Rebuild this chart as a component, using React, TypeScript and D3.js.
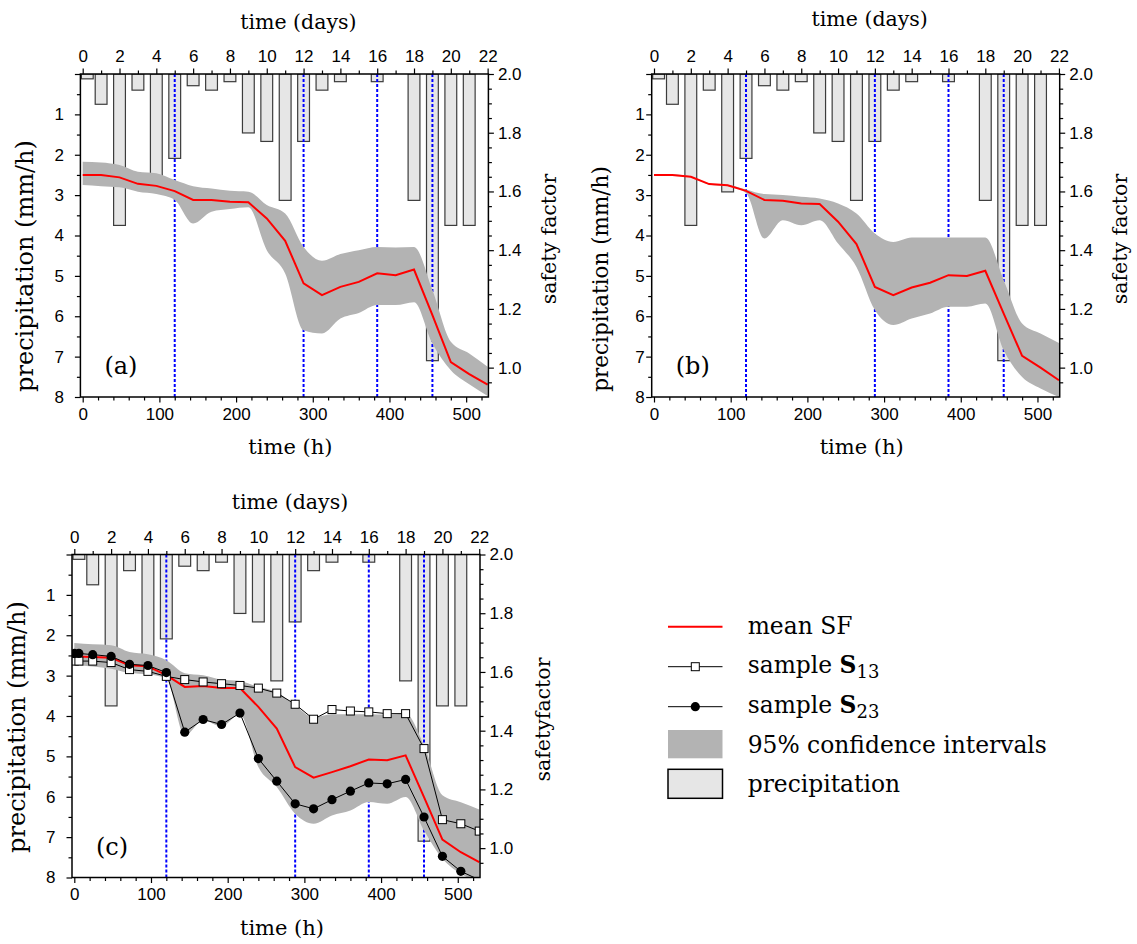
import React, { useEffect, useRef } from 'react';
import * as d3 from 'd3';

// daily precipitation (mm/h), bars placed at day index
const rainDays = [0.25, 1, 2, 3, 4, 5, 6, 7, 8, 9, 10, 11, 12, 13, 14, 16, 18, 19, 20, 21];
const rainValues = [0.12, 0.75, 3.75, 0.4, 2.92, 2.09, 0.29, 0.4, 0.19, 1.46, 1.67, 3.13, 1.67, 0.4, 0.19, 0.19, 3.13, 7.1, 3.75, 3.75];

// vertical dotted markers (h)
const eventHours = [120, 288, 384, 456];

// safety factor time grid (h)
const hours = [0, 24, 48, 72, 96, 120, 144, 168, 192, 216, 240, 264, 288, 312, 336, 360, 384, 408, 432, 456, 480, 504, 528];

// panel (a)
const meanA = [1.656, 1.656, 1.648, 1.626, 1.619, 1.601, 1.571, 1.571, 1.565, 1.563, 1.508, 1.432, 1.287, 1.247, 1.275, 1.292, 1.321, 1.315, 1.334, 1.179, 1.019, 0.978, 0.942];
const upperA = [1.701, 1.699, 1.69, 1.667, 1.662, 1.639, 1.618, 1.61, 1.602, 1.599, 1.554, 1.525, 1.411, 1.364, 1.387, 1.4, 1.411, 1.409, 1.411, 1.264, 1.088, 1.048, 1.003];
const lowerA = [1.622, 1.618, 1.614, 1.599, 1.591, 1.571, 1.491, 1.531, 1.54, 1.546, 1.4, 1.321, 1.127, 1.116, 1.167, 1.186, 1.213, 1.213, 1.223, 1.082, 0.991, 0.943, 0.903];

// panel (b)
const meanB = [1.656, 1.656, 1.65, 1.625, 1.621, 1.602, 1.571, 1.568, 1.559, 1.557, 1.497, 1.421, 1.275, 1.247, 1.273, 1.289, 1.315, 1.312, 1.33, 1.184, 1.04, 1.0, 0.957];
const upperB = [1.658, 1.658, 1.652, 1.627, 1.623, 1.607, 1.591, 1.588, 1.582, 1.576, 1.559, 1.525, 1.457, 1.428, 1.443, 1.443, 1.443, 1.443, 1.443, 1.298, 1.15, 1.116, 1.084];
const lowerB = [1.653, 1.653, 1.648, 1.623, 1.618, 1.595, 1.44, 1.502, 1.485, 1.502, 1.423, 1.343, 1.196, 1.145, 1.167, 1.184, 1.207, 1.207, 1.218, 1.059, 0.968, 0.929, 0.9];

// panel (c)
const meanC = [1.653, 1.651, 1.648, 1.623, 1.619, 1.589, 1.549, 1.552, 1.545, 1.545, 1.481, 1.407, 1.276, 1.24, 1.259, 1.279, 1.302, 1.299, 1.316, 1.174, 1.029, 0.986, 0.952];
const upperC = [1.699, 1.694, 1.691, 1.668, 1.66, 1.64, 1.596, 1.589, 1.574, 1.569, 1.549, 1.532, 1.486, 1.446, 1.456, 1.456, 1.456, 1.455, 1.458, 1.35, 1.18, 1.156, 1.132];
const lowerC = [1.623, 1.619, 1.611, 1.596, 1.592, 1.577, 1.384, 1.435, 1.415, 1.456, 1.276, 1.208, 1.117, 1.083, 1.111, 1.128, 1.157, 1.151, 1.174, 1.06, 0.964, 0.913, 0.884];

const sampleHours = [0, 6, 24, 48, 72, 96, 120, 144, 168, 192, 216, 240, 264, 288, 312, 336, 360, 384, 408, 432, 456, 480, 504, 528];
const s13 = [1.637, 1.637, 1.637, 1.632, 1.608, 1.602, 1.585, 1.574, 1.566, 1.56, 1.554, 1.545, 1.528, 1.49, 1.439, 1.472, 1.467, 1.464, 1.458, 1.458, 1.339, 1.097, 1.083, 1.058];
const s23 = [1.663, 1.663, 1.659, 1.653, 1.626, 1.622, 1.598, 1.395, 1.438, 1.421, 1.46, 1.305, 1.228, 1.151, 1.134, 1.165, 1.194, 1.222, 1.219, 1.234, 1.106, 0.972, 0.921, 0.892];

// ticks
const dayMajor = [0, 2, 4, 6, 8, 10, 12, 14, 16, 18, 20, 22];
const dayMinor = [1, 3, 5, 7, 9, 11, 13, 15, 17, 19, 21];
const hourMajor = [0, 100, 200, 300, 400, 500];
const rainMajor = [0, 1, 2, 3, 4, 5, 6, 7, 8];
const rainMinor = [0.5, 1.5, 2.5, 3.5, 4.5, 5.5, 6.5, 7.5];
const sfMajor = [1.0, 1.2, 1.4, 1.6, 1.8, 2.0];

const W = 408;
const H = 323;
const SERIF = '"DejaVu Serif", serif';
const SANS = '"Liberation Sans", Arial, sans-serif';

const panels = [
  { id: 'a', left: 80.4, top: 74, tag: '(a)', mean: meanA, upper: upperA, lower: lowerA, samples: false,
    rightTitle: 'safety factor', rightTitleX: 556, leftPad: 11, leftTitleX: 33, leftTitleY: 266, leftTitleSize: 24, topTitleY: 29 },
  { id: 'b', left: 651.7, top: 74, tag: '(b)', mean: meanB, upper: upperB, lower: lowerB, samples: false,
    rightTitle: 'safety factor', rightTitleX: 1127, leftPad: 1.5, leftTitleX: 608, leftTitleY: 279, leftTitleSize: 21.5, topTitleY: 26 },
  { id: 'c', left: 72, top: 554.5, tag: '(c)', mean: meanC, upper: upperC, lower: lowerC, samples: true,
    rightTitle: 'safetyfactor', rightTitleX: 550, leftPad: 11, leftTitleX: 25, leftTitleY: 727, leftTitleSize: 24, topTitleY: 509 },
];

function styleAxis(sel: any) {
  sel.select('.domain').remove();
  sel.selectAll('line').attr('stroke', '#000').attr('stroke-width', 1.2);
  sel.selectAll('text').attr('font-family', SANS).attr('font-size', 17).attr('fill', '#000');
}

function drawPanel(svg: any, p: any) {
  const x = d3.scaleLinear().domain([-3, 529]).range([p.left, p.left + W]);
  const yRain = d3.scaleLinear().domain([0, 8]).range([p.top, p.top + H]);
  const ySF = d3.scaleLinear().domain([0.9, 2.0]).range([p.top + H, p.top]);

  const g = svg.append('g');
  g.append('clipPath').attr('id', 'clip-' + p.id).append('rect')
    .attr('x', p.left).attr('y', p.top).attr('width', W).attr('height', H);
  const body = g.append('g').attr('clip-path', `url(#clip-${p.id})`);

  const barW = x(15.4) - x(0);
  body.selectAll('rect.rain').data(rainDays).join('rect')
    .attr('class', 'rain')
    .attr('x', (d: number) => x(d * 24) - barW / 2)
    .attr('y', yRain(0))
    .attr('width', barW)
    .attr('height', (d: number, i: number) => yRain(rainValues[i]) - yRain(0))
    .attr('fill', '#e6e6e6')
    .attr('stroke', '#3c3c3c')
    .attr('stroke-width', 1.2);

  body.selectAll('line.event').data(eventHours).join('line')
    .attr('class', 'event')
    .attr('x1', (d: number) => x(d)).attr('x2', (d: number) => x(d))
    .attr('y1', p.top).attr('y2', p.top + H)
    .attr('stroke', '#0000ff').attr('stroke-width', 2).attr('stroke-dasharray', '3,2');

  const band = d3.area<number>()
    .x((d) => x(d))
    .y0((d, i) => ySF(p.lower[i]))
    .y1((d, i) => ySF(p.upper[i]))
    .curve(d3.curveMonotoneX);
  body.append('path').attr('d', band(hours)).attr('fill', '#b3b3b3');

  const meanLine = d3.line<number>().x((d) => x(d)).y((d, i) => ySF(p.mean[i]));
  body.append('path').attr('d', meanLine(hours)).attr('fill', 'none')
    .attr('stroke', '#ff0000').attr('stroke-width', 2);

  if (p.samples) {
    const sLine = (vals: number[]) => d3.line<number>().x((d) => x(d)).y((d, i) => ySF(vals[i]))(sampleHours);
    body.append('path').attr('d', sLine(s13)).attr('fill', 'none').attr('stroke', '#000').attr('stroke-width', 1);
    body.append('path').attr('d', sLine(s23)).attr('fill', 'none').attr('stroke', '#000').attr('stroke-width', 1);
    const inRange = (i: number, vals: number[]) => vals[i] >= 0.9;
    body.selectAll('rect.s13').data(sampleHours.filter((d, i) => inRange(i, s13))).join('rect')
      .attr('class', 's13')
      .attr('x', (d: number) => x(d) - 4)
      .attr('y', (d: number) => ySF(s13[sampleHours.indexOf(d)]) - 4)
      .attr('width', 8).attr('height', 8)
      .attr('fill', '#fff').attr('stroke', '#000').attr('stroke-width', 1);
    body.selectAll('circle.s23').data(sampleHours.filter((d, i) => inRange(i, s23))).join('circle')
      .attr('class', 's23')
      .attr('cx', (d: number) => x(d))
      .attr('cy', (d: number) => ySF(s23[sampleHours.indexOf(d)]))
      .attr('r', 4.6)
      .attr('fill', '#000');
  }

  // axes
  const minorHours = d3.range(0, 529, 20).filter((h) => h % 100 !== 0);
  g.append('g').attr('transform', `translate(0,${p.top + H})`)
    .call(d3.axisBottom(x).tickValues(minorHours).tickSize(3.5).tickFormat(() => ''))
    .call(styleAxis);
  g.append('g').attr('transform', `translate(0,${p.top + H})`)
    .call(d3.axisBottom(x).tickValues(hourMajor).tickSize(5.5).tickPadding(5).tickFormat(d3.format('d')))
    .call(styleAxis);

  g.append('g').attr('transform', `translate(0,${p.top})`)
    .call(d3.axisTop(x).tickValues(dayMinor.map((d) => d * 24)).tickSize(3.5).tickFormat(() => ''))
    .call(styleAxis);
  g.append('g').attr('transform', `translate(0,${p.top})`)
    .call(d3.axisTop(x).tickValues(dayMajor.map((d) => d * 24)).tickSize(5.5).tickPadding(6.5)
      .tickFormat((d: any) => String(Math.round(d / 24))))
    .call(styleAxis);

  g.append('g').attr('transform', `translate(${p.left},0)`)
    .call(d3.axisLeft(yRain).tickValues(rainMinor).tickSize(3.5).tickFormat(() => ''))
    .call(styleAxis);
  g.append('g').attr('transform', `translate(${p.left},0)`)
    .call(d3.axisLeft(yRain).tickValues(rainMajor).tickSize(5.5).tickPadding(p.leftPad)
      .tickFormat((d: any) => (d === 0 ? '' : String(d))))
    .call(styleAxis);

  const sfMinor = d3.range(19, 40).map((k) => k * 0.05).filter((v) => Math.abs(v * 5 - Math.round(v * 5)) > 1e-6);
  g.append('g').attr('transform', `translate(${p.left + W},0)`)
    .call(d3.axisRight(ySF).tickValues(sfMinor).tickSize(3.5).tickFormat(() => ''))
    .call(styleAxis);
  g.append('g').attr('transform', `translate(${p.left + W},0)`)
    .call(d3.axisRight(ySF).tickValues(sfMajor).tickSize(5.5).tickPadding(4).tickFormat(d3.format('.1f')))
    .call(styleAxis);

  g.append('rect').attr('x', p.left).attr('y', p.top).attr('width', W).attr('height', H)
    .attr('fill', 'none').attr('stroke', '#000').attr('stroke-width', 1.5);

  // titles
  g.append('text').attr('x', p.left + 218).attr('y', p.topTitleY).attr('text-anchor', 'middle')
    .attr('font-family', SERIF).attr('font-size', 20.5).text('time (days)');
  g.append('text').attr('x', p.left + 210).attr('y', p.top + H + 57).attr('text-anchor', 'middle')
    .attr('font-family', SERIF).attr('font-size', 21).text('time (h)');
  g.append('text').attr('transform', `translate(${p.leftTitleX},${p.leftTitleY}) rotate(-90)`)
    .attr('text-anchor', 'middle').attr('font-family', SERIF).attr('font-size', p.leftTitleSize)
    .text('precipitation (mm/h)');
  g.append('text').attr('transform', `translate(${p.rightTitleX},${p.top + 165}) rotate(-90)`)
    .attr('text-anchor', 'middle').attr('font-family', SERIF).attr('font-size', 20.5)
    .text(p.rightTitle);
  g.append('text').attr('x', p.left + 24).attr('y', p.top + H - 23)
    .attr('font-family', SERIF).attr('font-size', 24).text(p.tag);
}

function drawLegend(svg: any) {
  const lg = svg.append('g').attr('font-family', SERIF).attr('font-size', 23.4);
  const x0 = 668;
  const x1 = 722.5;
  const tx = 747.7;

  lg.append('line').attr('x1', x0).attr('x2', x1).attr('y1', 626.7).attr('y2', 626.7)
    .attr('stroke', '#ff0000').attr('stroke-width', 2);
  lg.append('text').attr('x', tx).attr('y', 634.3).text('mean SF');

  lg.append('line').attr('x1', x0).attr('x2', x1).attr('y1', 666.7).attr('y2', 666.7)
    .attr('stroke', '#000').attr('stroke-width', 1);
  lg.append('rect').attr('x', 691.3).attr('y', 662.7).attr('width', 8).attr('height', 8)
    .attr('fill', '#fff').attr('stroke', '#000');
  const t13 = lg.append('text').attr('x', tx).attr('y', 673.3);
  t13.append('tspan').text('sample ');
  t13.append('tspan').attr('font-weight', 'bold').text('S');
  t13.append('tspan').attr('font-size', 18).attr('dy', 5).text('13');

  lg.append('line').attr('x1', x0).attr('x2', x1).attr('y1', 706.7).attr('y2', 706.7)
    .attr('stroke', '#000').attr('stroke-width', 1);
  lg.append('circle').attr('cx', 695.3).attr('cy', 706.7).attr('r', 4.6).attr('fill', '#000');
  const t23 = lg.append('text').attr('x', tx).attr('y', 713.3);
  t23.append('tspan').text('sample ');
  t23.append('tspan').attr('font-weight', 'bold').text('S');
  t23.append('tspan').attr('font-size', 18).attr('dy', 5).text('23');

  lg.append('rect').attr('x', x0).attr('y', 730).attr('width', x1 - x0).attr('height', 28.3)
    .attr('fill', '#b3b3b3');
  lg.append('text').attr('x', tx).attr('y', 752.7).text('95% confidence intervals');

  lg.append('rect').attr('x', x0).attr('y', 769.3).attr('width', x1 - x0).attr('height', 29)
    .attr('fill', '#e6e6e6').attr('stroke', '#000').attr('stroke-width', 1.5);
  lg.append('text').attr('x', tx).attr('y', 791.7).text('precipitation');
}

export default function App() {
  const ref = useRef<SVGSVGElement | null>(null);

  useEffect(() => {
    const svg = d3.select(ref.current);
    svg.selectAll('*').remove();
    panels.forEach((p) => drawPanel(svg, p));
    drawLegend(svg);
  }, []);

  return (
    <svg
      ref={ref}
      width={1137}
      height={944}
      style={{ position: 'absolute', left: 0, top: 0, background: '#fff' }}
    />
  );
}
